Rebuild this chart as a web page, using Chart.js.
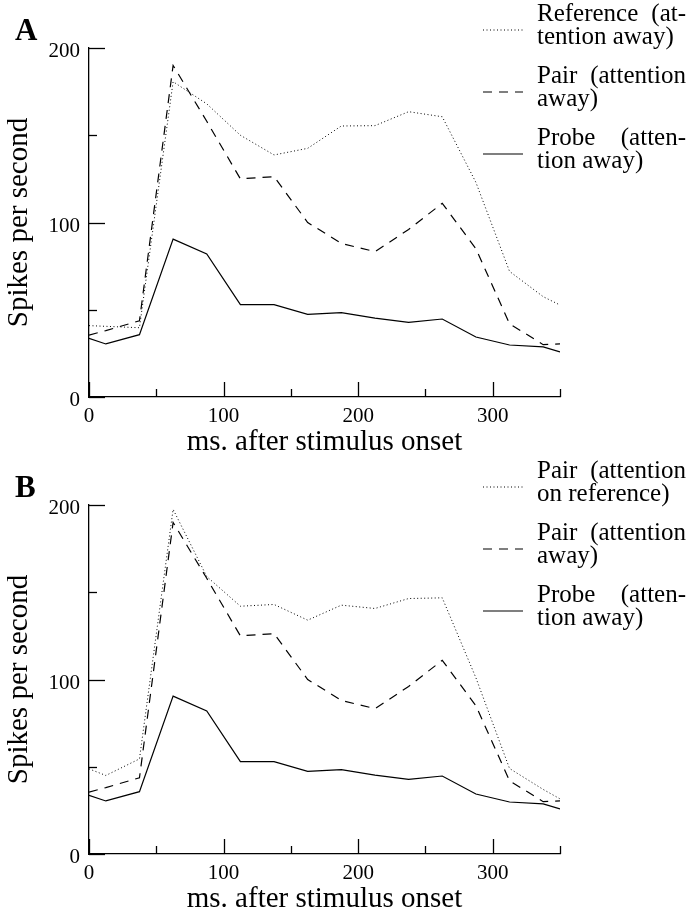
<!DOCTYPE html>
<html>
<head>
<meta charset="utf-8">
<script src="https://cdn.jsdelivr.net/npm/chart.js@4/dist/chart.umd.min.js"></script>
<style>
  html, body { margin: 0; padding: 0; background: #fff; }
  #wrap { position: relative; width: 689px; height: 914px; }
  .panel { position: absolute; left: 0; width: 689px; height: 457px; }
  canvas { display: block; }
</style>
</head>
<body>
<div id="wrap">
  <div class="panel" style="top:0"><canvas id="chartA" width="689" height="457"></canvas></div>
  <div class="panel" style="top:457px"><canvas id="chartB" width="689" height="457"></canvas></div>
</div>
<script>
// Time bins (ms after stimulus onset)
const timeMs = [0, 12.5, 37.5, 62.5, 87.5, 112.5, 137.5, 162.5, 187.5, 212.5, 237.5, 262.5, 287.5, 312.5, 337.5, 350];

// Firing rates (spikes per second)
const probeAway     = [33.6, 30.4, 35.7, 90.5, 82, 52.9, 52.9, 47.4, 48.3, 45.2, 42.8, 44.7, 34.4, 29.8, 28.7, 25.8];
const pairAway      = [35.5, 38, 43.7, 190, 158, 125, 126.3, 100, 88, 83.3, 96, 111, 85, 42, 30, 30.5];
const referenceAway = [40.9, 40.5, 39.7, 180.7, 168, 150, 138.7, 142.5, 155.3, 155.5, 163.5, 160.6, 123, 72, 57.5, 52.7];
const pairAttendRef = [48.8, 45, 54.5, 197.5, 159, 142, 143, 134, 142.6, 140.7, 146.4, 146.8, 101, 49, 37, 31.6];

// Axis ticks: every 50, labelled every 100
const xMajorTicks = [0, 100, 200, 300];
const yMajorTicks = [0, 100, 200];

// Legend text, broken into lines
const legendA = [['Reference (at-', 'tention away)'], ['Pair (attention', 'away)'], ['Probe (atten-', 'tion away)']];
const legendB = [['Pair (attention', 'on reference)'], ['Pair (attention', 'away)'], ['Probe (atten-', 'tion away)']];

const SERIF = '"Liberation Serif", "Times New Roman", serif';

function points(values) {
  return values.map((v, i) => ({ x: timeMs[i], y: v }));
}

const STYLE_DOTTED = { borderColor: '#000', borderWidth: 1, borderDash: [1, 2.5] };
const STYLE_DASHED = { borderColor: '#000', borderWidth: 1.2, borderDash: [9, 7] };
const STYLE_SOLID  = { borderColor: '#000', borderWidth: 1.2, borderDash: [] };

// Inward-pointing tick marks: long at labelled values, short in between
const inwardTicks = {
  id: 'inwardTicks',
  afterDatasetsDraw(chart) {
    const { ctx, chartArea: a } = chart;
    const xs = chart.scales.x, ys = chart.scales.y;
    ctx.save();
    ctx.strokeStyle = '#000';
    ctx.lineWidth = 1.3;
    xs.ticks.forEach(t => {
      const px = Math.round(xs.getPixelForValue(t.value)) + 0.5;
      const len = xMajorTicks.includes(t.value) ? 15 : 8;
      ctx.beginPath(); ctx.moveTo(px, a.bottom); ctx.lineTo(px, a.bottom - len); ctx.stroke();
    });
    ys.ticks.forEach(t => {
      const py = Math.round(ys.getPixelForValue(t.value)) + 0.5;
      const len = yMajorTicks.includes(t.value) ? 16 : 8;
      ctx.beginPath(); ctx.moveTo(a.left, py); ctx.lineTo(a.left + len, py); ctx.stroke();
    });
    ctx.restore();
  }
};

function drawJustified(ctx, text, x0, x1, y) {
  const words = text.split(' ');
  if (words.length === 1) { ctx.fillText(text, x0, y); return; }
  const widths = words.map(w => ctx.measureText(w).width);
  const total = widths.reduce((s, w) => s + w, 0);
  const gap = Math.max(ctx.measureText(' ').width, (x1 - x0 - total) / (words.length - 1));
  let x = x0;
  words.forEach((w, i) => { ctx.fillText(w, x, y); x += widths[i] + gap; });
}

// Legend at the right: line sample followed by a two-line justified label
const sideLegend = {
  id: 'sideLegend',
  afterDraw(chart, args, opts) {
    const ctx = chart.ctx;
    ctx.save();
    ctx.font = opts.fontSize + 'px ' + SERIF;
    ctx.fillStyle = '#000';
    ctx.textBaseline = 'alphabetic';
    ctx.textAlign = 'left';
    chart.data.datasets.forEach((ds, i) => {
      const lines = opts.lines[i];
      const b1 = opts.firstBaseline + i * opts.step;
      const sy = b1 + opts.sampleOffset;
      ctx.save();
      ctx.strokeStyle = ds.borderColor;
      ctx.lineWidth = ds.borderWidth;
      ctx.setLineDash(ds.borderDash || []);
      ctx.beginPath(); ctx.moveTo(opts.sampleX0, sy); ctx.lineTo(opts.sampleX1, sy); ctx.stroke();
      ctx.restore();
      drawJustified(ctx, lines[0], opts.textX0, opts.textX1, b1);
      ctx.fillText(lines[1], opts.textX0, b1 + opts.lineGap);
    });
    ctx.restore();
  }
};

// Bold panel letter in the top-left corner
const panelLetter = {
  id: 'panelLetter',
  afterDraw(chart, args, opts) {
    const ctx = chart.ctx;
    ctx.save();
    ctx.font = 'bold 31px ' + SERIF;
    ctx.fillStyle = '#000';
    ctx.textBaseline = 'alphabetic';
    ctx.fillText(opts.text, 15, 40);
    ctx.restore();
  }
};

function makePanel(id, letter, series, legendLines) {
  const styles = [STYLE_DOTTED, STYLE_DASHED, STYLE_SOLID];
  return new Chart(document.getElementById(id), {
    type: 'line',
    data: {
      datasets: series.map((s, i) => Object.assign({
        label: legendLines[i].join(' '),
        data: points(s),
        pointRadius: 0,
        tension: 0,
        fill: false
      }, styles[i]))
    },
    options: {
      responsive: false,
      animation: false,
      devicePixelRatio: 1,
      events: [],
      layout: { padding: { top: 48, right: 129, left: 0, bottom: 0 } },
      plugins: {
        legend: { display: false },
        tooltip: { enabled: false },
        sideLegend: {
          lines: legendLines, fontSize: 25,
          firstBaseline: 21, step: 62, lineGap: 23, sampleOffset: 9,
          sampleX0: 483, sampleX1: 523, textX0: 537, textX1: 686
        },
        panelLetter: { text: letter }
      },
      scales: {
        x: {
          type: 'linear', min: 0, max: 350,
          afterFit: s => { s.height = 60; },
          border: { display: true, color: '#000', width: 1.3 },
          grid: { display: true, drawOnChartArea: false, drawTicks: false },
          ticks: {
            stepSize: 50, autoSkip: false, maxRotation: 0, padding: 7,
            color: '#000', font: { family: SERIF, size: 21 },
            callback: v => xMajorTicks.includes(v) ? String(v) : ''
          },
          title: {
            display: true, text: 'ms. after stimulus onset', color: '#000',
            font: { family: SERIF, size: 29, lineHeight: 1 },
            padding: { top: 0, bottom: 0 }
          }
        },
        y: {
          type: 'linear', min: 0, max: 200,
          afterFit: s => { s.width = 89; },
          border: { display: true, color: '#000', width: 1.3 },
          grid: { display: true, drawOnChartArea: false, drawTicks: false },
          ticks: {
            stepSize: 50, autoSkip: false, padding: 9, labelOffset: 3.5,
            color: '#000', font: { family: SERIF, size: 21 },
            callback: v => yMajorTicks.includes(v) ? String(v) : ''
          },
          title: {
            display: true, text: 'Spikes per second', color: '#000',
            font: { family: SERIF, size: 29, lineHeight: 1 },
            padding: { top: 5, bottom: 0 }
          }
        }
      }
    },
    plugins: [inwardTicks, sideLegend, panelLetter]
  });
}

makePanel('chartA', 'A', [referenceAway, pairAway, probeAway], legendA);
makePanel('chartB', 'B', [pairAttendRef, pairAway, probeAway], legendB);
</script>
</body>
</html>
